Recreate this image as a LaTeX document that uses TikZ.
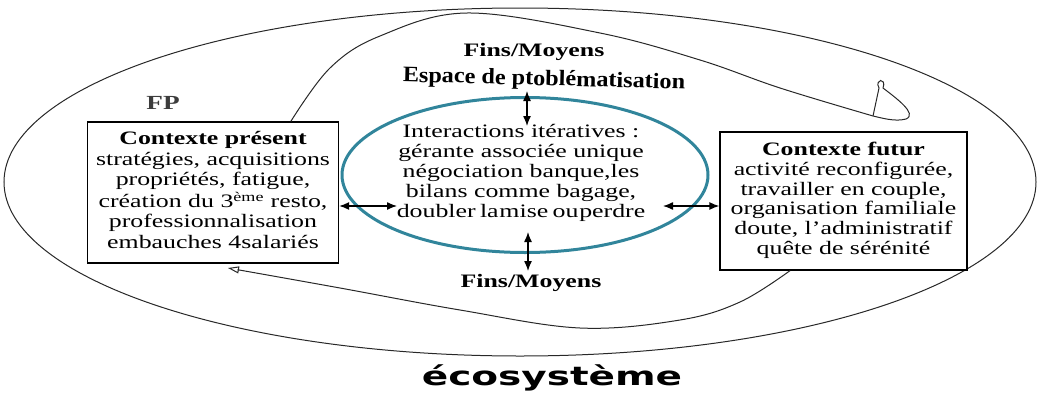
\documentclass[tikz,border=0pt]{standalone}
\usepackage{fontspec}
\setmainfont{Liberation Serif}
\newfontfamily\ecofont{DejaVu Sans}
\usetikzlibrary{arrows.meta,shapes.geometric}
\definecolor{tealring}{RGB}{49,133,155}
\definecolor{fpgray}{RGB}{60,60,60}
\definecolor{inkline}{RGB}{40,40,40}
\newcommand{\wide}[1]{\scalebox{1.36}[1]{#1}}
\begin{document}
\begin{tikzpicture}[x=1pt,y=-1pt,
  thinline/.style={line width=1pt, draw=inkline},
  ctxbox/.style={draw, line width=1.3pt, inner sep=0pt, font=\fontsize{19}{20.5}\selectfont},
  txt/.style={inner sep=0pt, align=center, font=\fontsize{19}{20}\selectfont},
  boldlabel/.style={inner sep=0pt, font=\fontsize{19}{20}\selectfont\bfseries},
  dbl/.style={line width=1.3pt, {Latex[length=10pt,width=8pt]}-{Latex[length=10pt,width=8pt]}},
  ring/.style={draw=tealring, line width=3pt, ellipse, inner sep=0pt},
  ]
\useasboundingbox (0,0) rectangle (1038,399);
% outer ecosystem ellipse
\draw[thinline] (520,182) ellipse [x radius=516, y radius=174];
% boxes
\node[ctxbox, minimum width=251pt, minimum height=141pt] (lb) at (213,192.5)
  {\wide{\begin{tabular}{@{}c@{}}\textbf{Contexte présent}\\ stratégies, acquisitions\\ propriétés, fatigue,\\ création du 3\textsuperscript{ème} resto,\\ professionnalisation\\ embauches 4salariés\end{tabular}}};
\node[ctxbox, minimum width=247pt, minimum height=138pt, font=\fontsize{19}{19.7}\selectfont] (rb) at (843.5,201)
  {\wide{\begin{tabular}{@{}c@{}}\textbf{Contexte futur}\\ activité reconfigurée,\\ travailler en couple,\\ organisation familiale\\ doute, l’administratif\\ quête de sérénité\end{tabular}}};
% central ring and text
\node[ring, minimum width=366pt, minimum height=155pt] (ce) at (525,175) {};
\node[txt] (ct) at (521,173)
  {\wide{\begin{tabular}{@{}c@{}}Interactions itératives :\\ gérante associée unique\\ négociation banque,les\\ bilans comme bagage,\\ doubler\,la\hspace{0.6pt}mise\,ou\hspace{0.6pt}perdre\end{tabular}}};
% labels
\node[boldlabel] (fm1) at (534,52) {\wide{Fins/Moyens}};
\node[inner sep=0pt, rotate=-1.5, font=\fontsize{22}{24}\selectfont\bfseries] (en) at (544,80) {\scalebox{1.1}[1]{Espace de ptoblématisation}};
\node[boldlabel] (fm2) at (531,283) {\wide{Fins/Moyens}};
\node[boldlabel, text=fpgray, font=\fontsize{20}{20}\selectfont\bfseries] (fp) at (163,103) {\wide{FP}};
\node[inner sep=0pt, font=\ecofont\bfseries\fontsize{26}{28}\selectfont] (eco) at (552,378) {\scalebox{1.5}[1]{écosystème}};
% anchor points for arrows
\coordinate (cl) at (397,206);
\coordinate (cr) at (663,206);
\coordinate (ta) at (527,91);
\coordinate (tb) at (527,126);
\coordinate (ba) at (528,232);
\coordinate (bb) at (528,271);
\draw[dbl] (lb.east |- cl) -- (cl);
\draw[dbl] (cr) -- (rb.west |- cr);
\draw[dbl] (ta) -- (tb);
\draw[dbl] (ba) -- (bb);
% upper loop curve from present context to the knot
\draw[thinline] plot[smooth, tension=0.6] coordinates {([xshift=204pt]lb.north west) (330,68) (380,36) (467,13) (600,33) (700,60) (780,88) (873,116)};
\draw[thinline] (873,116) -- (879,88) .. controls (874,79) and (887,77) .. (883,88)
  .. controls (896,98) and (918,114) .. (906,119) .. controls (895,122) and (882,118) .. (873,116);
% lower return curve to present context
\draw[thinline, -{Triangle[open,length=11pt,width=7pt]}] plot[smooth, tension=0.6] coordinates {([xshift=-53.5pt]rb.south) (740,302) (680,320) (580,328) (460,310) (340,288) (228,268)};
\end{tikzpicture}
\end{document}
